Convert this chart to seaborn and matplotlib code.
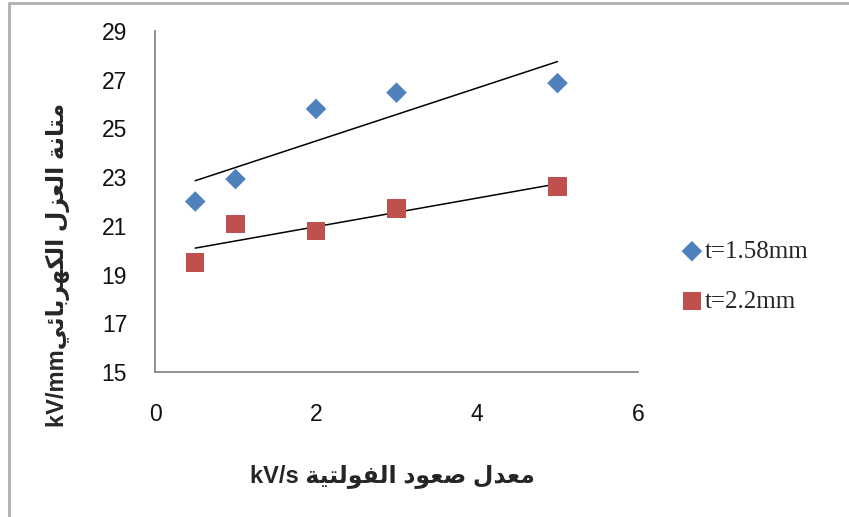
import numpy as np
import pandas as pd
import matplotlib
matplotlib.use("Agg")
import matplotlib.pyplot as plt
from matplotlib.lines import Line2D
import seaborn as sns

# ---------------- data ----------------
x_rate = [0.5, 1, 2, 3, 5]
y_t158 = [22.0, 22.92, 25.8, 26.47, 26.86]
y_t22 = [19.5, 21.08, 20.8, 21.72, 22.61]
series_names = ["t=1.58mm", "t=2.2mm"]
x_ticks = [0, 2, 4, 6]
y_ticks = [15, 17, 19, 21, 23, 25, 27, 29]
x_label = "معدل صعود الفولتية kV/s"
y_label = "متانة العزل الكهربائيkV/mm"

# ---------------- minimal Arabic shaping (presentation forms, visual order) ----------------
FORMS = {
    'ا': ('\uFE8D', '\uFE8E', None, None),
    'ئ': ('\uFE89', '\uFE8A', '\uFE8B', '\uFE8C'),
    'ب': ('\uFE8F', '\uFE90', '\uFE91', '\uFE92'),
    'ة': ('\uFE93', '\uFE94', None, None),
    'ت': ('\uFE95', '\uFE96', '\uFE97', '\uFE98'),
    'د': ('\uFEA9', '\uFEAA', None, None),
    'ر': ('\uFEAD', '\uFEAE', None, None),
    'ز': ('\uFEAF', '\uFEB0', None, None),
    'ص': ('\uFEB9', '\uFEBA', '\uFEBB', '\uFEBC'),
    'ع': ('\uFEC9', '\uFECA', '\uFECB', '\uFECC'),
    'ف': ('\uFED1', '\uFED2', '\uFED3', '\uFED4'),
    'ك': ('\uFED9', '\uFEDA', '\uFEDB', '\uFEDC'),
    'ل': ('\uFEDD', '\uFEDE', '\uFEDF', '\uFEE0'),
    'م': ('\uFEE1', '\uFEE2', '\uFEE3', '\uFEE4'),
    'ن': ('\uFEE5', '\uFEE6', '\uFEE7', '\uFEE8'),
    'ه': ('\uFEE9', '\uFEEA', '\uFEEB', '\uFEEC'),
    'و': ('\uFEED', '\uFEEE', None, None),
    'ي': ('\uFEF1', '\uFEF2', '\uFEF3', '\uFEF4'),
}


def shape(text):
    out = []
    n = len(text)
    for i, ch in enumerate(text):
        if ch not in FORMS:
            out.append(ch)
            continue
        prev = text[i - 1] if i > 0 else ''
        nxt = text[i + 1] if i < n - 1 else ''
        pj = prev in FORMS and FORMS[prev][2] is not None
        nj = FORMS[ch][2] is not None and nxt in FORMS
        iso, fin, ini, med = FORMS[ch]
        if pj and nj:
            out.append(med)
        elif pj:
            out.append(fin)
        elif nj:
            out.append(ini)
        else:
            out.append(iso)
    return ''.join(out)


def visual(text):
    s = shape(text)
    runs = []
    for ch in s:
        latin = ch.isascii() and not ch.isspace()
        if runs and runs[-1][0] == latin:
            runs[-1][1].append(ch)
        else:
            runs.append([latin, [ch]])
    res = ''
    for latin, chars in reversed(runs):
        res += ''.join(chars if latin else reversed(chars))
    return res


# ---------------- data frame ----------------
df = pd.DataFrame({
    "x": x_rate * 2,
    "y": y_t158 + y_t22,
    "series": [series_names[0]] * len(x_rate) + [series_names[1]] * len(x_rate),
})

sns.set_theme(style="white")
plt.rcParams['font.family'] = ['Liberation Sans', 'DejaVu Sans']

fig = plt.figure(figsize=(8.49, 5.17), dpi=100)
ax = fig.add_axes([155 / 849, (517 - 372) / 517, (638 - 155) / 849, (372 - 31) / 517])

palette = {series_names[0]: "#4F81BD", series_names[1]: "#C0504D"}
markers = {series_names[0]: "D", series_names[1]: "s"}

for name in series_names:
    sub = df[df["series"] == name]
    sns.scatterplot(data=sub, x="x", y="y", color=palette[name], marker=markers[name],
                    s=(110 if markers[name] == "D" else 175), edgecolor="none",
                    ax=ax, label=name, zorder=3)
    sns.regplot(data=sub, x="x", y="y", scatter=False, ci=None, truncate=True,
                line_kws={"color": "black", "lw": 1.1, "zorder": 2}, ax=ax)

ax.set_xlim(0, 6)
ax.set_ylim(15, 29)
ax.set_xticks(x_ticks)
ax.set_yticks(y_ticks)
ax.set_xticklabels([str(v) for v in x_ticks])
ax.set_yticklabels([str(v) for v in y_ticks])

for side in ["top", "right"]:
    ax.spines[side].set_visible(False)
for side in ["left", "bottom"]:
    ax.spines[side].set_color("#888888")
    ax.spines[side].set_linewidth(1.3)

ax.tick_params(axis="both", which="major", direction="out", length=6, width=1.3,
               color="#888888", labelsize=16.5, labelcolor="#111111")
ax.tick_params(axis="y", pad=14)
ax.tick_params(axis="x", pad=16)
ax.grid(False)

ax.set_xlabel(visual(x_label), fontsize=17, fontweight="bold",
              family=['Liberation Sans', 'DejaVu Sans'])
ax.set_ylabel(visual(y_label), fontsize=17, fontweight="bold",
              family=['Liberation Sans', 'DejaVu Sans'])
ax.xaxis.set_label_coords((392 - 155) / 483, -(464 - 372) / 341)
ax.yaxis.set_label_coords((70 - 155) / 483, (372 - 265) / 341)

handles, labels = ax.get_legend_handles_labels()
leg = ax.legend(handles, labels, loc="center left", bbox_to_anchor=(1.065, 0.28),
                frameon=False, prop={"family": "Liberation Serif", "size": 18},
                handletextpad=0.0, labelspacing=1.1, handlelength=1.0, borderaxespad=0)

# outer frame of the picture
fig.add_artist(Line2D([8.5 / 849, 8.5 / 849], [0, 1 - 2.5 / 517], transform=fig.transFigure,
                      color="#AFAFAF", lw=2))
fig.add_artist(Line2D([8.5 / 849, 1], [1 - 2.5 / 517, 1 - 2.5 / 517], transform=fig.transFigure,
                      color="#AFAFAF", lw=2))

fig.savefig("out.png", dpi=100)
